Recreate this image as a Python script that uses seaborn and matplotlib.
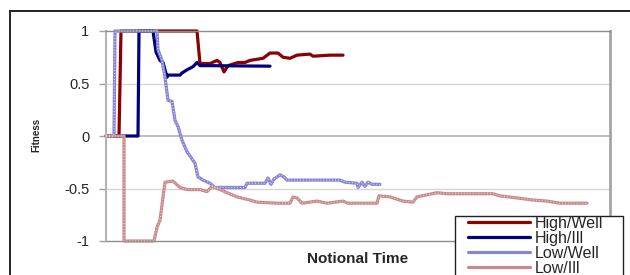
import numpy as np
import pandas as pd
import matplotlib
matplotlib.use("Agg")
import matplotlib.pyplot as plt
from matplotlib.patches import Rectangle
import seaborn as sns

# series values (time step, fitness)
high_well_t = [0, 13, 15, 91, 94, 104, 111, 114, 118, 122, 132, 139, 144, 157, 164, 172, 177, 184, 191, 204, 207, 224, 237]
high_well_y = [0, 0, 1, 1, 0.69, 0.69, 0.72, 0.70, 0.61, 0.67, 0.70, 0.70, 0.72, 0.74, 0.79, 0.79, 0.75, 0.74, 0.77, 0.78, 0.76, 0.77, 0.77]

high_ill_t = [0, 32, 33, 47, 50, 54, 57, 61, 62, 74, 76, 81, 87, 91, 94, 104, 164]
high_ill_y = [0, 0, 1, 1, 0.80, 0.72, 0.70, 0.56, 0.58, 0.58, 0.60, 0.63, 0.66, 0.70, 0.67, 0.67, 0.665]

low_well_t = [0, 8, 9, 51, 52, 56, 59, 62, 66, 69, 72, 76, 81, 89, 92, 97, 104, 109, 139, 141, 159, 162, 165, 168,
              174, 178, 181, 234, 239, 251, 252, 256, 259, 262, 266, 274]
low_well_y = [0, 0, 1, 1, 0.82, 0.72, 0.56, 0.34, 0.33, 0.15, 0.09, -0.04, -0.15, -0.26, -0.39, -0.42, -0.45, -0.49,
              -0.49, -0.45, -0.45, -0.40, -0.46, -0.41, -0.37, -0.39, -0.42, -0.42, -0.44, -0.45, -0.49, -0.44,
              -0.48, -0.44, -0.46, -0.46]

low_ill_t = [0, 18, 18, 48, 51, 54, 59, 67, 74, 81, 94, 101, 106, 114, 121, 131, 144, 151, 171, 184, 187, 191, 196,
             211, 221, 237, 242, 271, 273, 284, 297, 307, 311, 321, 331, 341, 387, 394, 411, 427, 441, 454, 481]
low_ill_y = [0, 0, -1, -1, -0.87, -0.80, -0.44, -0.43, -0.49, -0.51, -0.51, -0.53, -0.48, -0.51, -0.54, -0.58, -0.61,
             -0.63, -0.64, -0.64, -0.58, -0.59, -0.64, -0.62, -0.64, -0.62, -0.64, -0.64, -0.57, -0.58, -0.62, -0.63,
             -0.58, -0.56, -0.54, -0.55, -0.55, -0.57, -0.59, -0.61, -0.62, -0.64, -0.64]

series_names = ["High/Well", "High/Ill", "Low/Well", "Low/Ill"]
series_colors = ["#8b0000", "#00007f", "#8585d2", "#c88a8a"]
y_ticks = [-1, -0.5, 0, 0.5, 1]
y_tick_labels = ["-1", "-0.5", "0", "0.5", "1"]

frames = []
for name, t, y in zip(series_names,
                      [high_well_t, high_ill_t, low_well_t, low_ill_t],
                      [high_well_y, high_ill_y, low_well_y, low_ill_y]):
    frames.append(pd.DataFrame({"time": t, "fitness": y, "series": name}))
df = pd.concat(frames, ignore_index=True)

sns.set_style("white")
plt.rcParams["font.family"] = ["Liberation Sans", "DejaVu Sans"]

fig = plt.figure(figsize=(6.3, 2.75), dpi=100)
ax = fig.add_axes([106 / 630, 1 - 241 / 275, 504 / 630, 210 / 275])

# grid lines
for gy in [0.5, -0.5]:
    ax.axhline(gy, color="#d6d6d6", lw=1, zorder=0)
ax.axhline(0, color="#b4b4b4", lw=1.2, zorder=0)

sns.lineplot(data=df, x="time", y="fitness", hue="series", hue_order=series_names,
             palette=series_colors, estimator=None, sort=False, lw=2.3, ax=ax)
for line in ax.get_lines():
    line.set_clip_on(False)
handles, labels = ax.get_legend_handles_labels()
ax.get_legend().remove()

# speckled texture on the "Low" series
for name, color in zip(series_names[2:], ["#e6e6ff", "#f3dada"]):
    sub = df[df["series"] == name]
    ax.plot(sub["time"], sub["fitness"], color=color, lw=0.7, ls=(0, (1, 2)), zorder=3, clip_on=False)

ax.set_xlim(0, 504)
ax.set_ylim(-1, 1)
ax.set_xticks([])
ax.set_yticks(y_ticks)
ax.set_yticklabels(y_tick_labels, fontsize=10.5)
ax.tick_params(axis="y", length=5, width=1, color="#a0a0a0", pad=7, left=True, direction="out")
ax.set_xlabel("Notional Time", fontsize=11, fontweight="bold", labelpad=8)
ax.set_ylabel("")
fig.text(36 / 630, 1 - 135 / 275, "Fitness", rotation=90, fontsize=7, fontweight="bold",
         ha="center", va="center")

ax.spines["top"].set_color("#8c8c8c")
ax.spines["top"].set_linewidth(1)
ax.spines["right"].set_color("#a4a4a4")
ax.spines["right"].set_linewidth(2)
ax.spines["left"].set_color("#b4b4b4")
ax.spines["left"].set_linewidth(1.5)
ax.spines["bottom"].set_color("#8c8c8c")
ax.spines["bottom"].set_linewidth(1)

# legend: own box, entries placed inside it
fig.patches.append(Rectangle((455 / 630, -0.1), 168 / 630, 0.1 + 1 - 216 / 275, transform=fig.transFigure,
                             facecolor="white", edgecolor="#202020", lw=1, zorder=4))
leg = fig.legend(handles, labels, loc="upper left", bbox_to_anchor=(468 / 630, 1 - 216 / 275),
                 fontsize=11.5, handlelength=3.9, handletextpad=0.3,
                 labelspacing=0.0, borderpad=0, borderaxespad=0, frameon=False)
leg.set_zorder(5)
for line in leg.get_lines():
    line.set_linewidth(2.3)

# outer chart border
fig.patches.append(Rectangle((10 / 630, -0.2), 1.2, 1.2 - 11 / 275, transform=fig.transFigure,
                             fill=False, edgecolor="#222222", lw=1.4))

fig.savefig("out.png", dpi=100)
